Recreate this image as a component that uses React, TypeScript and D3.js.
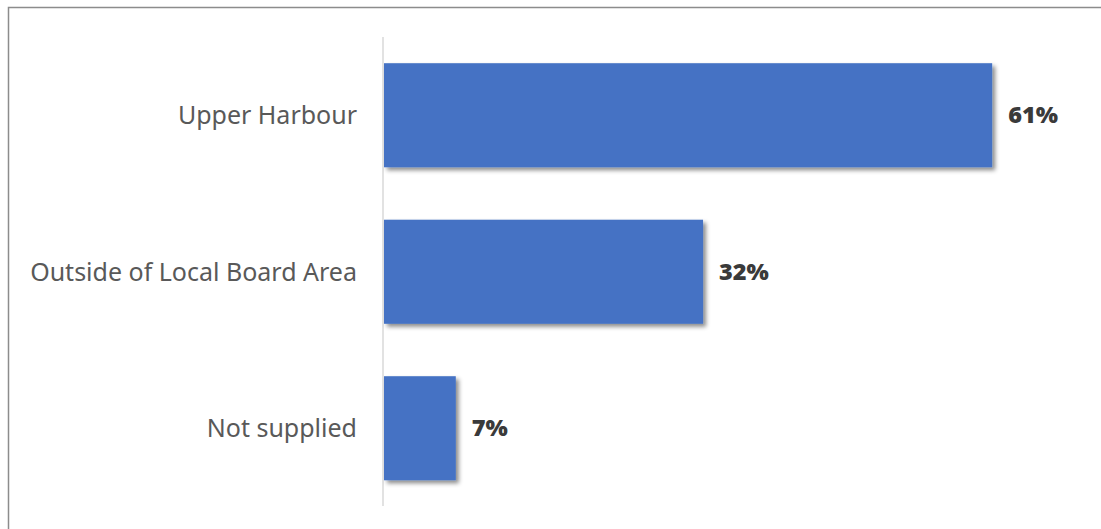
import React from "react";
import * as d3 from "d3";

const categories = ["Upper Harbour", "Outside of Local Board Area", "Not supplied"];
const values = [61, 32, 7.2];
const valueLabels = ["61%", "32%", "7%"];

const W = 1101;
const H = 529;

export default function App() {
  const x0 = 384;
  const x = d3.scaleLinear().domain([0, 100]).range([x0, x0 + 997]);
  const y = d3
    .scaleBand<string>()
    .domain(categories)
    .range([37, 506.5])
    .paddingInner(0.335)
    .paddingOuter(0.1675);

  return (
    <svg
      width={W}
      height={H}
      style={{ position: "absolute", left: 0, top: 0, display: "block" }}
    >
      <defs>
        <filter id="shadow" x="-10%" y="-10%" width="130%" height="140%">
          <feDropShadow dx="3" dy="3" stdDeviation="2.2" floodColor="#000" floodOpacity="0.45" />
        </filter>
      </defs>
      <rect x={0} y={0} width={W} height={H} fill="#fff" />
      <rect x={8.5} y={7.5} width={W + 10} height={H + 10} fill="none" stroke="#8c8c8c" strokeWidth={1.5} />
      <line x1={383} x2={383} y1={37} y2={506} stroke="#d9d9d9" strokeWidth={1.5} />
      {categories.map((c, i) => (
        <g key={c}>
          <rect
            x={x(0)}
            y={y(c)!}
            width={x(values[i]) - x(0)}
            height={y.bandwidth()}
            fill="#4472C4"
            filter="url(#shadow)"
          />
          <text
            x={357}
            y={y(c)! + y.bandwidth() / 2}
            dy="0.35em"
            textAnchor="end"
            fontFamily="'Noto Sans', sans-serif"
            fontSize={25}
            fill="#595959"
          >
            {c}
          </text>
          <text
            x={x(values[i]) + 16}
            y={y(c)! + y.bandwidth() / 2}
            dy="0.35em"
            textAnchor="start"
            fontFamily="'Open Sans', sans-serif"
            fontWeight={800}
            fontSize={23.5}
            fill="#3a3a3a"
          >
            {valueLabels[i]}
          </text>
        </g>
      ))}
    </svg>
  );
}
